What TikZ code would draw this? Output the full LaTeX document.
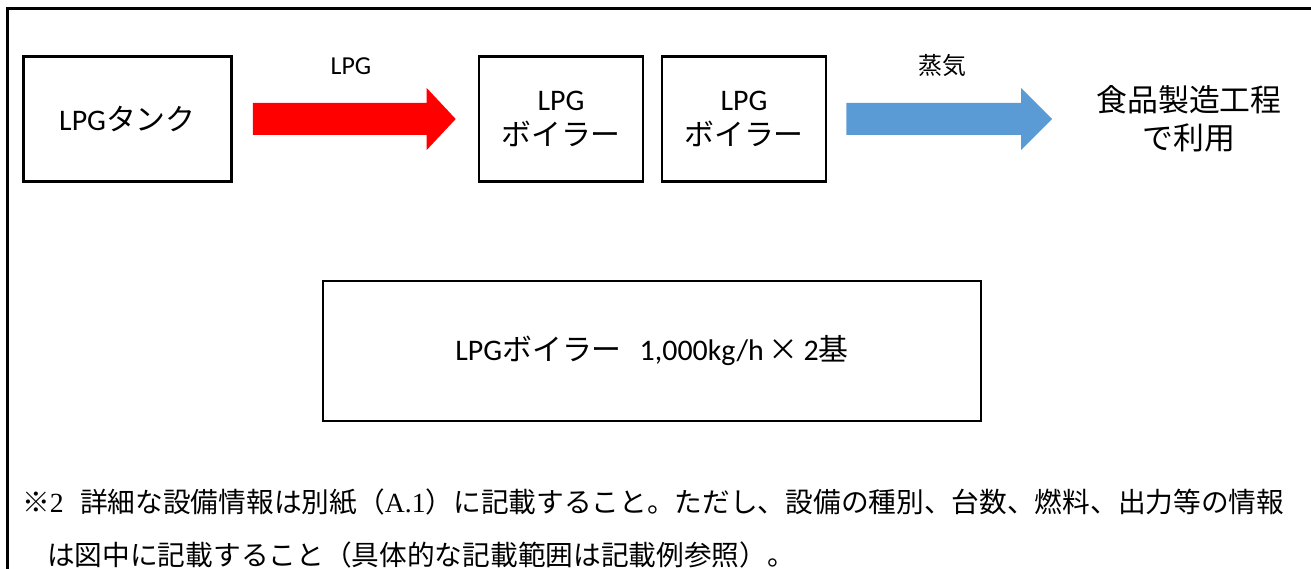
\documentclass[tikz,border=0pt]{standalone}
\usepackage{fontspec}
\setmainfont{Carlito}
\newfontfamily\jp{Noto Sans CJK JP}
\newfontfamily\srf{Liberation Serif}
\usetikzlibrary{calc}
\definecolor{lpgred}{HTML}{FF0000}
\definecolor{steamblue}{HTML}{5B9BD5}
\begin{document}
\begin{tikzpicture}[x=1bp,y=-1bp,
  unitbox/.style={draw,line width=2.6bp,minimum height=125bp,inner sep=0pt,align=center,
    font=\fontsize{30}{36}\selectfont},
  flowlabel/.style={inner sep=0pt,font=\fontsize{26}{30}\selectfont},
  notetext/.style={inner sep=0pt,anchor=base west,font=\fontsize{27.8}{34}\selectfont}]
\useasboundingbox (0,0) rectangle (1311,569);
% outer frame (partly visible)
\draw[line width=3bp] (7.5,569) -- (7.5,9) -- (1311,9);
% boxes
\node[unitbox,minimum width=208bp] (tank) at (127.5,119) {LPG{\jp タンク}};
\node[unitbox,minimum width=164bp] (b1) at (561,119) {LPG\\{\jp ボイラー}};
\node[unitbox,minimum width=164bp] (b2) at (744,119) {LPG\\{\jp ボイラー}};
\node[inner sep=0pt,align=center,font=\jp\fontsize{31}{38}\selectfont] (use) at (1189,119) {食品製造工程\\で利用};
\coordinate (steamend) at (1052,119);
% arrows
\fill[lpgred] ($(tank.east)+(20,-16)$) -- ($(b1.west)+(-51,-16)$) -- ($(b1.west)+(-51,-31)$)
  -- ($(b1.west)+(-22,0)$) -- ($(b1.west)+(-51,31)$) -- ($(b1.west)+(-51,16)$)
  -- ($(tank.east)+(20,16)$) -- cycle;
\fill[steamblue] ($(b2.east)+(19,-16)$) -- ($(steamend)+(-31,-16)$) -- ($(steamend)+(-31,-31)$)
  -- (steamend) -- ($(steamend)+(-31,31)$) -- ($(steamend)+(-31,16)$)
  -- ($(b2.east)+(19,16)$) -- cycle;
\node[flowlabel] (lpglabel) at (351,66) {LPG};
\node[flowlabel,font=\jp\fontsize{24}{28}\selectfont] (steamlabel) at (942,65) {蒸気};
% summary box
\node[draw,line width=1.5bp,minimum width=658bp,minimum height=140bp,inner sep=0pt,
  font=\fontsize{30}{36}\selectfont] (summary) at (652,351)
  {LPG{\jp ボイラー}\hspace{0.6em}1,000kg/h\,{\jp ×}\,2{\jp 基}};
% note
\node[notetext] (mark) at (22,512) {{\jp ※}{\srf 2}};
\node[notetext] (note1) at (80,512) {{\jp 詳細な設備情報は別紙（}{\srf A.1}{\jp ）に記載すること。ただし、設備の種別、台数、燃料、出力等の情報}};
\node[notetext] (note2) at (47,565) {{\jp は図中に記載すること（具体的な記載範囲は記載例参照）。}};
\end{tikzpicture}
\end{document}
